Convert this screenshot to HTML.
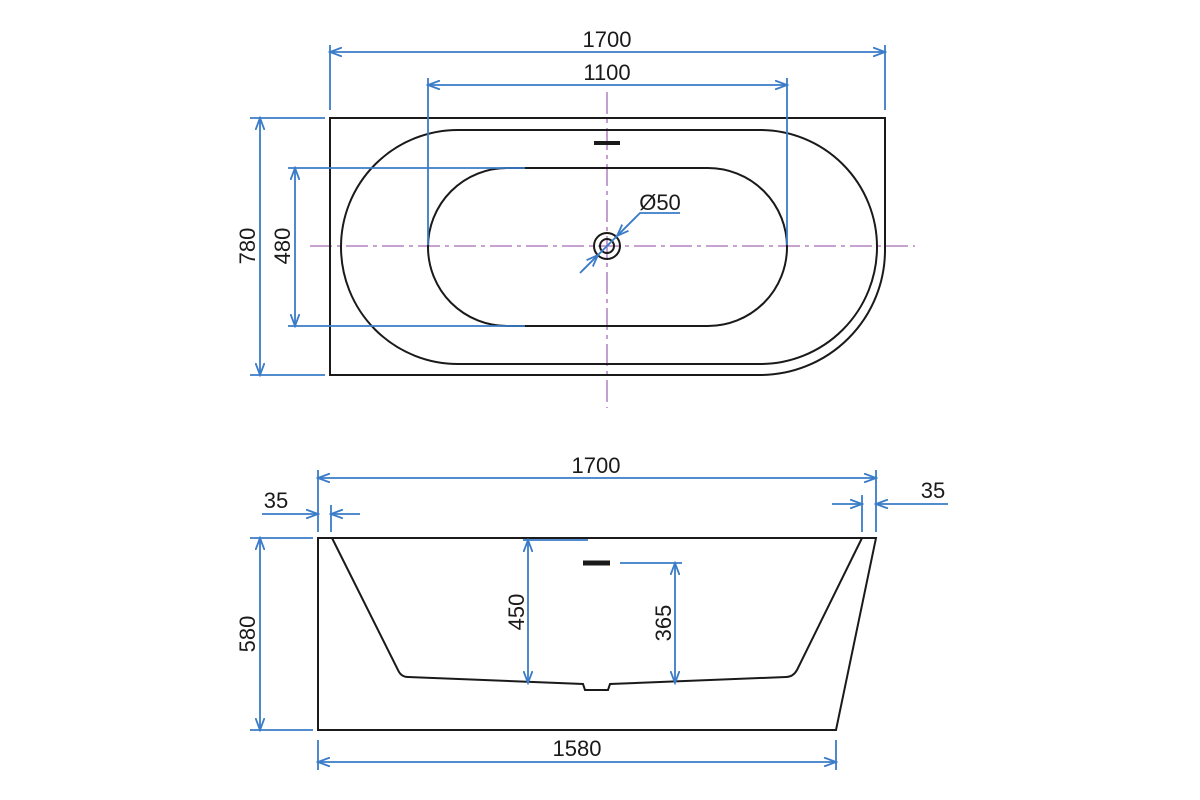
<!DOCTYPE html>
<html><head><meta charset="utf-8"><style>
html,body{margin:0;padding:0;background:#fff;}
svg{display:block}
text{font-family:"Liberation Sans Narrow","Liberation Sans",sans-serif;font-size:22px;fill:#1a1a1a;}
</style></head><body>
<svg width="1200" height="800" viewBox="0 0 1200 800" xmlns="http://www.w3.org/2000/svg">
<defs>
<marker id="a" markerWidth="14" markerHeight="10" refX="12" refY="5" orient="auto-start-reverse" markerUnits="userSpaceOnUse">
<path d="M0,0.5 L12,5 L0,9.5" fill="none" stroke="#3a7cc8" stroke-width="1.8"/>
</marker>
</defs>
<g stroke="#a56bb5" stroke-width="1.3" stroke-dasharray="22,5,4,5" fill="none">
<line x1="310" y1="246" x2="915" y2="246"/>
<line x1="607" y1="92" x2="607" y2="408"/>
</g>
<g fill="none" stroke="#1a1a1a" stroke-width="2">
<path d="M330,118 H885 V250 A125,125 0 0 1 760,375 H330 Z"/>
<rect x="341" y="130" width="536" height="234" rx="117" ry="117"/>
<rect x="428" y="168" width="359" height="158" rx="79" ry="79"/>
<circle cx="607" cy="246" r="13"/>
<circle cx="607" cy="246" r="7"/>
</g>
<line x1="594" y1="143" x2="620" y2="143" stroke="#1a1a1a" stroke-width="4"/>
<g stroke="#3a7cc8" stroke-width="1.8" fill="none">
<line x1="330" y1="45" x2="330" y2="110"/><line x1="885" y1="45" x2="885" y2="110"/>
<line x1="330" y1="52" x2="885" y2="52" marker-start="url(#a)" marker-end="url(#a)"/>
<line x1="428" y1="78" x2="428" y2="245"/><line x1="787" y1="78" x2="787" y2="245"/>
<line x1="428" y1="85" x2="787" y2="85" marker-start="url(#a)" marker-end="url(#a)"/>
<line x1="250" y1="118" x2="325" y2="118"/><line x1="250" y1="375" x2="325" y2="375"/>
<line x1="260" y1="118" x2="260" y2="375" marker-start="url(#a)" marker-end="url(#a)"/>
<line x1="288" y1="168" x2="525" y2="168"/><line x1="288" y1="326" x2="525" y2="326"/>
<line x1="295" y1="168" x2="295" y2="326" marker-start="url(#a)" marker-end="url(#a)"/>
<line x1="580" y1="273" x2="638" y2="215"/>
<line x1="582" y1="271" x2="598" y2="255" marker-end="url(#a)"/>
<line x1="636" y1="217" x2="617" y2="236" marker-end="url(#a)"/>
<polyline points="637,216 640,213 680,213"/>
</g>
<text x="607" y="47" text-anchor="middle">1700</text>
<text x="607" y="80" text-anchor="middle">1100</text>
<text x="660" y="210" text-anchor="middle">Ø50</text>
<text transform="translate(255,246) rotate(-90)" text-anchor="middle">780</text>
<text transform="translate(290,246) rotate(-90)" text-anchor="middle">480</text>
<g fill="none" stroke="#1a1a1a" stroke-width="2">
<path d="M318,538 H876 L836,730 H318 Z"/>
<path d="M332,538 L398,670 Q401,677 408,677 L583,684 L585,690 L608,690 L610,684 L786,677 Q793,677 797,670 L862,538"/>
</g>
<line x1="583" y1="563" x2="610" y2="563" stroke="#1a1a1a" stroke-width="5"/>
<g stroke="#3a7cc8" stroke-width="1.8" fill="none">
<line x1="318" y1="470" x2="318" y2="532"/><line x1="876" y1="470" x2="876" y2="532"/>
<line x1="318" y1="478" x2="876" y2="478" marker-start="url(#a)" marker-end="url(#a)"/>
<line x1="331" y1="505" x2="331" y2="532"/>
<line x1="262" y1="514" x2="318" y2="514" marker-end="url(#a)"/>
<line x1="360" y1="514" x2="331" y2="514" marker-end="url(#a)"/>
<line x1="862" y1="495" x2="862" y2="532"/>
<line x1="832" y1="504" x2="862" y2="504" marker-end="url(#a)"/>
<line x1="948" y1="504" x2="876" y2="504" marker-end="url(#a)"/>
<line x1="250" y1="538" x2="313" y2="538"/><line x1="250" y1="730" x2="313" y2="730"/>
<line x1="260" y1="538" x2="260" y2="730" marker-start="url(#a)" marker-end="url(#a)"/>
<line x1="523" y1="540" x2="588" y2="540"/>
<line x1="528" y1="540" x2="528" y2="683" marker-start="url(#a)" marker-end="url(#a)"/>
<line x1="620" y1="563" x2="682" y2="563"/>
<line x1="675" y1="563" x2="675" y2="683" marker-start="url(#a)" marker-end="url(#a)"/>
<line x1="318" y1="740" x2="318" y2="770"/><line x1="836" y1="740" x2="836" y2="770"/>
<line x1="318" y1="762" x2="836" y2="762" marker-start="url(#a)" marker-end="url(#a)"/>
</g>
<text x="596" y="473" text-anchor="middle">1700</text>
<text x="276" y="508" text-anchor="middle">35</text>
<text x="933" y="498" text-anchor="middle">35</text>
<text x="577" y="756" text-anchor="middle">1580</text>
<text transform="translate(255,634) rotate(-90)" text-anchor="middle">580</text>
<text transform="translate(524,612) rotate(-90)" text-anchor="middle">450</text>
<text transform="translate(671,623) rotate(-90)" text-anchor="middle">365</text>
</svg>
</body></html>
